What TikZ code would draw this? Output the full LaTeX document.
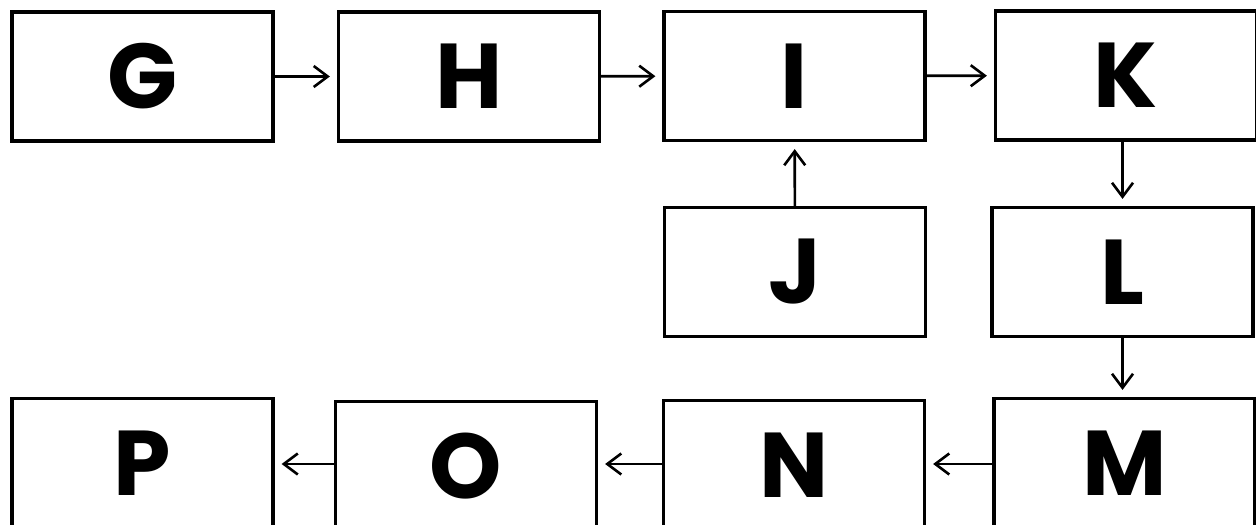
\documentclass[tikz,border=0pt]{standalone}
\usepackage{fontspec}
\newfontfamily\boxfont{Poppins}[UprightFont=* Bold]
\usetikzlibrary{arrows.meta}
\tikzset{
  blk/.style={draw=black, line width=1.6pt, fill=white, minimum width=130.5pt, minimum height=64.5pt, inner sep=0pt, font=\boxfont\fontsize{46}{50}\selectfont},
  conn/.style={line width=1.3pt, -{Straight Barb[length=7pt,width=10.5pt,line width=1.3pt]}, shorten >=3.5pt}
}
\begin{document}
\begin{tikzpicture}[x=0.5pt,y=-0.5pt]
\useasboundingbox (0,0) rectangle (1256,524);
\fill[white] (0,0) rectangle (1256,524);
\node[blk] (G) at (142.5,76.5) {G};
\node[blk] (H) at (469,76.5) {H};
\node[blk] (I) at (794.5,76) {I};
\node[blk] (K) at (1126,75.5) {K};
\node[blk] (J) at (795,272) {J};
\node[blk] (L) at (1122.5,272) {L};
\node[blk] (M) at (1124.5,463) {M};
\node[blk] (N) at (794,465) {N};
\node[blk] (O) at (466,466) {O};
\node[blk] (P) at (142.5,463) {P};
\draw[conn] (G) -- (H);
\draw[conn] (H) -- (I);
\draw[conn] (I) -- (K);
\draw[conn] (J) -- (I);
\draw[conn] (K.south -| L) -- (L);
\draw[conn] (L) -- (L |- M.north);
\draw[conn] (M.west |- 0,464) -- (N.east |- 0,464);
\draw[conn] (N.west |- 0,464) -- (O.east |- 0,464);
\draw[conn] (O.west |- 0,464) -- (P.east |- 0,464);
\end{tikzpicture}
\end{document}
